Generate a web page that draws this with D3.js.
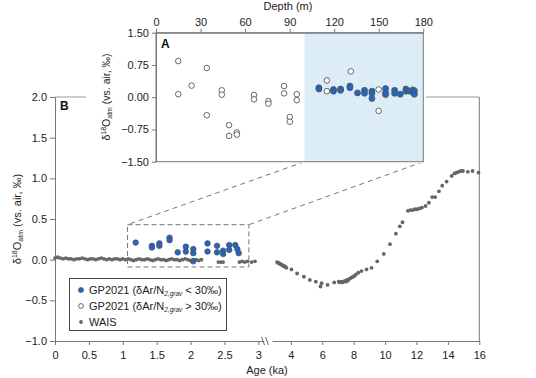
<!DOCTYPE html>
<html>
<head>
<meta charset="utf-8">
<script src="https://cdn.jsdelivr.net/npm/d3@7"></script>
<style>
body { margin: 0; background: #fff; }
svg { font-family: "Liberation Sans", Arial, sans-serif; }
.axis path, .axis line { stroke: #777; }
.axis text { fill: #222; font-size: 11px; }
</style>
</head>
<body>
<svg id="chart" width="536" height="378"></svg>
<script>
// inset A: GP2021 vs depth
const depthBlue = [109.7,109.7,119.5,119.5,124.3,124.3,130.6,130.6,135.7,140.4,140.4,145.4,145.4,145.4,154.6,154.6,154.6,160.7,160.7,164.5,168.3,168.3,170.8,173,173,174,174];
const valBlue   = [0.22,0.19,0.18,0.14,0.19,0.16,0.26,0.22,0.10,0.16,0.09,0.14,0.09,-0.03,0.20,0.10,0.06,0.16,0.09,0.07,0.19,0.14,0.14,0.17,0.12,0.15,0.07];
const depthOpen = [15,15,24,34.2,34.2,44.3,44.3,49.2,49.2,54.4,54.4,66,66,75.7,75.7,86.3,86.3,90.1,90.1,94.8,94.8,115.1,115.1,131.2,149.9,149.9];
const valOpen   = [0.84,0.07,0.27,0.68,-0.42,0.16,0.06,-0.65,-0.90,-0.82,-0.87,0.05,-0.05,-0.09,-0.15,0.26,0.09,-0.46,-0.57,0.07,-0.07,0.39,0.14,0.60,-0.32,0.18];

// panel B: GP2021 vs age
const gpAge = [1.19,1.43,1.43,1.54,1.54,1.69,1.69,1.81,1.93,1.93,2.04,2.04,2.04,2.25,2.25,2.39,2.39,2.48,2.48,2.57,2.57,2.66,2.69,2.71];
const gpVal = [0.21,0.17,0.15,0.20,0.17,0.27,0.24,0.09,0.16,0.10,0.13,0.08,-0.02,0.20,0.10,0.17,0.09,0.11,0.07,0.18,0.12,0.18,0.13,0.08];

// WAIS, first axis segment (0-3 ka)
const wais1 = [
  [0.00,0.02],[0.04,0.03],[0.08,0.02],[0.12,0.01],[0.16,0.02],[0.20,0.01],[0.24,0.01],[0.28,0.00],[0.32,0.01],[0.36,0.01],
  [0.40,0.02],[0.44,0.01],[0.48,0.00],[0.52,0.01],[0.56,0.01],[0.60,0.00],[0.64,0.01],[0.68,0.02],[0.72,0.01],[0.76,0.00],
  [0.80,0.01],[0.84,0.00],[0.88,0.01],[0.92,0.01],[0.96,0.00],[1.00,0.01],[1.04,0.00],[1.08,0.01],[1.12,0.00],[1.16,-0.01],
  [1.20,0.00],[1.24,0.01],[1.28,0.00],[1.32,0.00],[1.36,0.01],[1.40,0.00],[1.44,-0.01],[1.48,0.00],[1.52,0.01],[1.56,0.00],
  [1.60,0.00],[1.64,-0.01],[1.68,0.00],[1.72,0.01],[1.76,0.00],[1.80,0.00],[1.84,-0.01],[1.88,0.00],[1.92,0.01],[1.96,0.00],
  [2.00,-0.01],[2.04,0.00],[2.08,0.00],[2.12,-0.01],[2.16,0.00],[2.41,-0.03],[2.45,-0.03],[2.48,-0.03],
  [2.72,-0.03],[2.76,-0.02],[2.80,-0.03],[2.84,-0.02],[2.90,-0.03],[2.95,-0.02]
];

// WAIS, second axis segment (3-16 ka)
const wais2 = [
  [3.12,-0.03],[3.18,-0.04],[3.24,-0.04],[3.30,-0.05],[3.36,-0.06],[3.42,-0.06],[3.48,-0.07],[3.54,-0.08],[3.60,-0.08],[3.66,-0.09],
  [3.72,-0.10],[4.04,-0.12],[4.40,-0.17],[4.83,-0.21],[5.21,-0.25],[5.59,-0.27],[5.89,-0.33],[5.96,-0.29],[6.34,-0.31],[6.76,-0.28],
  [7.05,-0.27],[7.12,-0.28],[7.20,-0.27],[7.28,-0.28],[7.36,-0.27],[7.44,-0.26],[7.50,-0.27],[7.56,-0.25],[7.62,-0.26],[7.70,-0.24],
  [7.78,-0.23],[7.86,-0.22],[7.95,-0.21],[8.05,-0.20],[8.15,-0.18],[8.30,-0.16],[8.50,-0.14],[8.82,-0.12],[9.14,-0.10],[9.50,-0.02],
  [9.92,0.07],[10.31,0.19],[10.69,0.32],[10.94,0.41],[11.11,0.46],[11.45,0.60],[11.60,0.61],[11.75,0.61],[11.90,0.62],[12.05,0.62],
  [12.20,0.63],[12.35,0.64],[12.58,0.66],[12.79,0.70],[13.00,0.77],[13.19,0.77],[13.43,0.84],[13.64,0.91],[13.92,0.96],[14.24,1.03],
  [14.42,1.06],[14.55,1.07],[14.68,1.08],[14.82,1.09],[14.96,1.09],[15.27,1.08],[15.57,1.09],[15.95,1.07]
];

const yTicks = [-1, -0.5, 0, 0.5, 1, 1.5, 2];
const ageTicks1 = [0, 0.5, 1, 1.5, 2, 2.5, 3];
const ageTicks2 = [4, 6, 8, 10, 12, 14, 16];
const depthTicks = [0, 30, 60, 90, 120, 150, 180];
const insetTicks = [1.5, 0.75, 0, -0.75, -1.5];
const shadedDepth = [100, 180];
const zoomAge = [1.07, 2.86];
const zoomVal = [-0.09, 0.43];

const blue = "#2166c2";
const svg = d3.select("#chart");

// ---- panel B scales
const y = d3.scaleLinear().domain([-1, 2]).range([341, 97]);
const x1 = d3.scaleLinear().domain([0, 3.08]).range([55, 263.8]);
const x2 = d3.scaleLinear().domain([2.8, 16]).range([272, 479.3]);

// frame: top and right
svg.append("line").attr("x1", 55).attr("x2", x2.range()[1]).attr("y1", y(2)).attr("y2", y(2))
    .attr("stroke", "#999");
svg.append("line").attr("x1", x2.range()[1]).attr("x2", x2.range()[1]).attr("y1", y(2)).attr("y2", y(-1))
    .attr("stroke", "#777");

svg.append("g").attr("class", "axis")
    .attr("transform", "translate(55,0)")
    .call(d3.axisLeft(y).tickValues(yTicks).tickSize(5).tickSizeOuter(0).tickFormat(d3.format(".1f")));

svg.append("g").attr("class", "axis")
    .attr("transform", `translate(0,${y(-1)})`)
    .call(d3.axisBottom(x1).tickValues(ageTicks1).tickSize(4).tickSizeOuter(0).tickPadding(6).tickFormat(d => String(d)));

svg.append("g").attr("class", "axis")
    .attr("transform", `translate(0,${y(-1)})`)
    .call(d3.axisBottom(x2).tickValues(ageTicks2).tickSize(4).tickSizeOuter(0).tickPadding(6).tickFormat(d => String(d)));

// axis break marks
[263, 267].forEach(bx => {
    svg.append("line").attr("x1", bx - 1.5).attr("x2", bx + 1.5)
        .attr("y1", y(-1) - 4).attr("y2", y(-1) + 4)
        .attr("stroke", "#666");
});

svg.append("text").attr("x", 267).attr("y", 374).attr("text-anchor", "middle")
    .attr("font-size", 11).attr("fill", "#222").text("Age (ka)");

function deltaLabel(g) {
    g.append("tspan").text("δ");
    g.append("tspan").attr("font-size", "7px").attr("dy", -4).text("18");
    g.append("tspan").attr("dy", 4).text("O");
    g.append("tspan").attr("font-size", "7px").attr("dy", 2).text("atm");
    g.append("tspan").attr("dy", -2).text(" (vs. air, ‰)");
}

svg.append("text").attr("transform", "translate(21,219) rotate(-90)")
    .attr("text-anchor", "middle").attr("font-size", 11).attr("fill", "#222")
    .call(deltaLabel);

svg.append("text").attr("x", 60).attr("y", 110).attr("font-weight", "bold")
    .attr("font-size", 12).attr("fill", "#111").text("B");

// WAIS points
svg.append("g").selectAll("circle").data(wais1).join("circle")
    .attr("cx", d => x1(d[0])).attr("cy", d => y(d[1])).attr("r", 1.9).attr("fill", "#666");
svg.append("g").selectAll("circle").data(wais2).join("circle")
    .attr("cx", d => x2(d[0])).attr("cy", d => y(d[1])).attr("r", 1.9).attr("fill", "#666");

// GP2021 points vs age
svg.append("g").selectAll("circle").data(gpAge).join("circle")
    .attr("cx", d => x1(d)).attr("cy", (d, i) => y(gpVal[i])).attr("r", 2.8)
    .attr("fill", blue).attr("stroke", "#555").attr("stroke-width", 0.7);

// zoom box
svg.append("rect")
    .attr("x", x1(zoomAge[0])).attr("y", y(zoomVal[1]))
    .attr("width", x1(zoomAge[1]) - x1(zoomAge[0])).attr("height", y(zoomVal[0]) - y(zoomVal[1]))
    .attr("fill", "none").attr("stroke", "#777").attr("stroke-dasharray", "5,3");

// ---- inset A
const xA = d3.scaleLinear().domain([0, 180]).range([156, 423.3]);
const yA = d3.scaleLinear().domain([-1.5, 1.5]).range([161.7, 32.7]);

// connector lines
svg.append("line").attr("x1", xA(shadedDepth[0])).attr("y1", yA(-1.5))
    .attr("x2", x1(zoomAge[0])).attr("y2", y(zoomVal[1]))
    .attr("stroke", "#777").attr("stroke-dasharray", "5,4");
svg.append("line").attr("x1", xA(shadedDepth[1])).attr("y1", yA(-1.5))
    .attr("x2", x1(zoomAge[1])).attr("y2", y(zoomVal[1]))
    .attr("stroke", "#777").attr("stroke-dasharray", "5,4");

svg.append("rect").attr("x", 86).attr("y", 0).attr("width", 340).attr("height", 163)
    .attr("fill", "#fff");

svg.append("rect")
    .attr("x", xA(shadedDepth[0])).attr("y", yA(1.5))
    .attr("width", xA(shadedDepth[1]) - xA(shadedDepth[0])).attr("height", yA(-1.5) - yA(1.5))
    .attr("fill", "#dcedf8");

svg.append("rect").attr("x", xA(0)).attr("y", yA(1.5))
    .attr("width", xA(180) - xA(0)).attr("height", yA(-1.5) - yA(1.5))
    .attr("fill", "none").attr("stroke", "#777");

svg.append("g").attr("class", "axis")
    .attr("transform", `translate(${xA(0)},0)`)
    .call(d3.axisLeft(yA).tickValues(insetTicks).tickSize(4).tickSizeOuter(0).tickFormat(d3.format(".2f")));

svg.append("g").attr("class", "axis")
    .attr("transform", `translate(0,${yA(1.5)})`)
    .call(d3.axisTop(xA).tickValues(depthTicks).tickSize(4).tickSizeOuter(0).tickPadding(3));

svg.append("text").attr("x", 288).attr("y", 10).attr("text-anchor", "middle")
    .attr("font-size", 11).attr("fill", "#222").text("Depth (m)");

svg.append("text").attr("transform", "translate(110,97) rotate(-90)")
    .attr("text-anchor", "middle").attr("font-size", 10.5).attr("fill", "#222")
    .call(deltaLabel);

svg.append("text").attr("x", 161).attr("y", 48).attr("font-weight", "bold")
    .attr("font-size", 12).attr("fill", "#111").text("A");

svg.append("g").selectAll("circle").data(depthOpen).join("circle")
    .attr("cx", d => xA(d)).attr("cy", (d, i) => yA(valOpen[i])).attr("r", 2.8)
    .attr("fill", "#fff").attr("stroke", "#444").attr("stroke-width", 0.8);

svg.append("g").selectAll("circle").data(depthBlue).join("circle")
    .attr("cx", d => xA(d)).attr("cy", (d, i) => yA(valBlue[i])).attr("r", 3)
    .attr("fill", blue).attr("stroke", "#555").attr("stroke-width", 0.8);

// ---- legend
const legend = svg.append("g");
legend.append("rect").attr("x", 69.5).attr("y", 278.5).attr("width", 157).attr("height", 52)
    .attr("fill", "#fff").attr("stroke", "#444");

const legendRows = [
    { sym: "blue", rel: "<" },
    { sym: "open", rel: ">" },
    { sym: "wais" }
];
legendRows.forEach((r, i) => {
    const cy = 290 + i * 16;
    const c = legend.append("circle").attr("cx", 81).attr("cy", cy);
    if (r.sym === "blue") c.attr("r", 2.6).attr("fill", blue).attr("stroke", "#555").attr("stroke-width", 0.6);
    else if (r.sym === "open") c.attr("r", 2.4).attr("fill", "#fff").attr("stroke", "#444").attr("stroke-width", 0.8);
    else c.attr("r", 1.9).attr("fill", "#666");

    const t = legend.append("text").attr("x", 89).attr("y", cy + 4)
        .attr("font-size", 11).attr("fill", "#222");
    if (r.sym === "wais") {
        t.text("WAIS");
    } else {
        t.append("tspan").text("GP2021 (δAr/N");
        t.append("tspan").attr("font-size", "6.5px").attr("font-style", "italic").attr("dy", 2).text("2,grav");
        t.append("tspan").attr("dy", -2).text(` ${r.rel} 30‰)`);
    }
});
</script>
</body>
</html>
